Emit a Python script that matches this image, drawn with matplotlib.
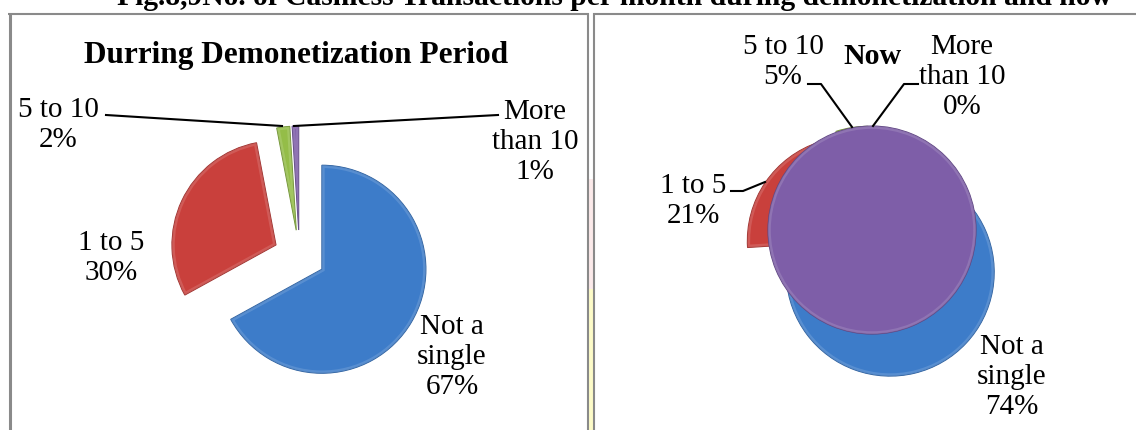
import matplotlib
matplotlib.use('Agg')
import matplotlib.pyplot as plt
from matplotlib.patches import Wedge
from matplotlib.colors import to_rgb

# data
categories = ['Not a\nsingle', '1 to 5', '5 to 10', 'More\nthan 10']
during_pct = [67, 30, 2, 1]
now_pct = [74, 21, 5, 0]
colors = ['#3d7cc9', '#c9403c', '#94bd48', '#7e5ea8']
edge_colors = ['#2c5f9e', '#9c2f2c', '#6f9133', '#5e4482']

fig_title = 'Fig.8,9No. of Cashless Transactions per month during demonetization and now'
left_title = 'Durring Demonetization Period'
right_title = 'Now'

W, H = 1136, 431
SERIF = 'Liberation Serif'
LABEL_FS = 21

fig = plt.figure(figsize=(W / 100, H / 100), dpi=100)
fig.patch.set_facecolor('white')


def lighten(c, f=0.35):
    r, g, b = to_rgb(c)
    return (r + (1 - r) * f, g + (1 - g) * f, b + (1 - b) * f)


def pie_axes(cx, cy, radius, lim=1.6):
    # square axes (pixel coords, y from top) so that a unit pie has the given radius
    size = 2 * lim * radius
    ax = fig.add_axes([(cx - size / 2) / W, (H - cy - size / 2) / H, size / W, size / H])
    return ax, lim


def draw_pie(ax, lim, values, explode):
    wedges, _ = ax.pie(values, colors=colors, startangle=90, counterclock=False,
                       explode=[explode] * len(values),
                       wedgeprops=dict(linewidth=0.8))
    for i, (w, ec) in enumerate(zip(wedges, edge_colors)):
        w.set_edgecolor(ec)
        w.set_zorder(2 * i + 1)
    ax.set_xlim(-lim, lim)
    ax.set_ylim(-lim, lim)
    ax.set_aspect('equal')
    ax.axis('off')
    return wedges


def bevel(ax, wedges):
    # soft light rim inside each slice, a rough take on the Excel bevel
    for w, c in zip(wedges, colors):
        if w.theta2 == w.theta1:
            continue
        rim = Wedge(w.center, w.r, w.theta1, w.theta2, facecolor='none',
                    edgecolor=lighten(c), lw=4, alpha=0.4,
                    zorder=w.get_zorder() + 0.5)
        ax.add_patch(rim)
        rim.set_clip_path(w)


# left pie
axl, lim = pie_axes(299.5, 257, 104)
wl = draw_pie(axl, lim, during_pct, 0.25)
bevel(axl, wl)

# right pie (the 0% slice is rendered as a full disc, as in the original export)
axr, lim = pie_axes(872, 256, 104)
wr = draw_pie(axr, lim, now_pct, 0.24)
wr[3].set_theta1(0)
wr[3].set_theta2(360)
bevel(axr, wr)

# overlay in pixel coordinates for frames, titles, labels and leader lines
ov = fig.add_axes([0, 0, 1, 1])
ov.set_xlim(0, W)
ov.set_ylim(H, 0)
ov.axis('off')

frame = '#8a8a8a'
ov.fill_between([589, 593], 290, H, color='#fdfbc8', lw=0)
ov.fill_between([589, 593], 180, 290, color='#fbeaea', lw=0)
ov.plot([9.5, 9.5], [15, H], color=frame, lw=2.2, solid_capstyle='butt')
ov.plot([8, 589], [15, 15], color=frame, lw=1.5, solid_capstyle='butt')
ov.plot([588, 588], [14, H], color=frame, lw=1.5, solid_capstyle='butt')
ov.plot([594, 594], [14, H], color=frame, lw=1.5, solid_capstyle='butt')
ov.plot([593, W], [15, 15], color=frame, lw=1.5, solid_capstyle='butt')

ov.text(296, 55, left_title, ha='center', va='center', family=SERIF,
        fontweight='bold', fontsize=22.5)
ov.text(872, 56, right_title, ha='center', va='center', family=SERIF,
        fontweight='bold', fontsize=21.5)


def label(x, y, cat, val):
    ov.text(x, y, f'{cat}\n{val}%', ha='center', va='center', family=SERIF,
            fontsize=LABEL_FS, linespacing=1.2, multialignment='center')


# left labels
left_pos = [(452, 357), (111, 258), (58, 125), (535, 142)]
for (x, y), c, v in zip(left_pos, categories, during_pct):
    label(x, y, c, v)
ov.plot([106, 282], [116, 127], color='black', lw=1.5)
ov.plot([498, 294], [116, 127], color='black', lw=1.5)

# right labels
right_pos = [(1012, 377), (693, 201), (783, 62), (962, 77)]
for (x, y), c, v in zip(right_pos, categories, now_pct):
    label(x, y, c, v)
ov.plot([808, 821, 852], [85, 85, 128], color='black', lw=1.5)
ov.plot([918, 904, 873], [85, 85, 127], color='black', lw=1.5)
ov.plot([731, 743, 765], [192, 192, 183], color='black', lw=1.5)

# figure caption, cut off by the top edge as in the source
t = fig.text(614.5 / W, 1 - 5 / H, fig_title, ha='center', va='baseline',
             family=SERIF, fontweight='bold', fontsize=20)
fig.canvas.draw()
w = t.get_window_extent().width
t.set_fontsize(20 * 995 / w)

fig.savefig('out.png', dpi=100, facecolor='white')
